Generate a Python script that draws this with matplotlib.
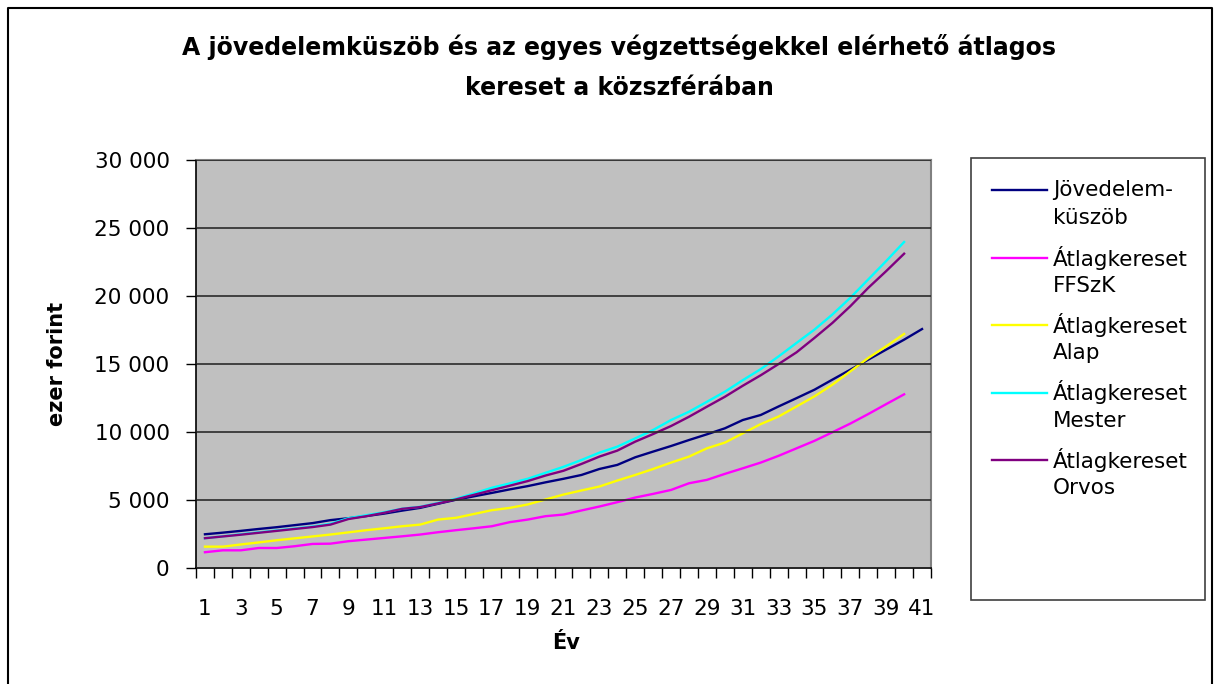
import numpy as np
import matplotlib.pyplot as plt
from matplotlib.lines import Line2D
from matplotlib.patches import Rectangle

# years 1..41 (only the threshold line runs to 41)
ev = list(range(1, 42))

jovedelem = [2480, 2600, 2730, 2870, 3000, 3150, 3300, 3520, 3660, 3820,
             4000, 4220, 4420, 4720, 5020, 5270, 5520, 5780, 6020, 6300,
             6560, 6840, 7280, 7580, 8140, 8560, 8970, 9410, 9830, 10270,
             10880, 11250, 11880, 12490, 13110, 13850, 14580, 15320, 16060, 16790,
             17570]
ffszk = [1160, 1300, 1300, 1470, 1470, 1600, 1770, 1790, 1970, 2090,
         2210, 2330, 2460, 2630, 2780, 2920, 3070, 3370, 3560, 3810,
         3930, 4230, 4520, 4840, 5180, 5450, 5740, 6230, 6480, 6920,
         7330, 7750, 8250, 8800, 9350, 9980, 10620, 11320, 12050, 12770]
alap = [1570, 1570, 1730, 1880, 2040, 2180, 2320, 2460, 2620, 2780,
        2920, 3070, 3190, 3560, 3690, 3970, 4250, 4420, 4670, 5040,
        5400, 5700, 5990, 6430, 6840, 7280, 7750, 8190, 8800, 9220,
        9900, 10580, 11140, 11880, 12620, 13480, 14460, 15440, 16300, 17210]
mester = [2190, 2330, 2480, 2620, 2760, 2900, 3050, 3250, 3660, 3880,
          4100, 4360, 4500, 4780, 5090, 5480, 5900, 6220, 6560, 7000,
          7440, 7940, 8480, 8920, 9530, 10150, 10880, 11490, 12220, 12960,
          13810, 14620, 15560, 16550, 17530, 18640, 19870, 21220, 22570, 23970]
orvos = [2190, 2320, 2450, 2590, 2730, 2870, 3010, 3190, 3600, 3810,
         4060, 4350, 4480, 4750, 5040, 5380, 5720, 6050, 6390, 6800,
         7150, 7650, 8190, 8630, 9290, 9850, 10440, 11120, 11860, 12590,
         13400, 14170, 15000, 15860, 16920, 18020, 19250, 20600, 21830, 23110]

labels = ["Jövedelem-\nküszöb", "Átlagkereset\nFFSzK", "Átlagkereset\nAlap",
          "Átlagkereset\nMester", "Átlagkereset\nOrvos"]
colors = ["#000080", "#FF00FF", "#FFFF00", "#00FFFF", "#800080"]
series = [jovedelem, ffszk, alap, mester, orvos]

plt.rcParams['font.family'] = ['DejaVu Sans']

W, H = 1219, 684
fig = plt.figure(figsize=(W / 100, H / 100), dpi=100)
fig.patch.set_facecolor("white")

ax = fig.add_axes([196 / W, 1 - 568 / H, 735 / W, 408 / H])
ax.set_facecolor("#C0C0C0")

for vals, c in zip(series, colors):
    ax.plot(ev[:len(vals)], vals, color=c, lw=1.7, solid_joinstyle="miter")

ax.set_xlim(0.5, 41.5)
ax.set_ylim(0, 30000)
ax.set_yticks(range(0, 30001, 5000))
ax.set_yticklabels(["0", "5 000", "10 000", "15 000", "20 000", "25 000", "30 000"])
ax.yaxis.grid(True, color="#2a2a2a", lw=1.2)
ax.set_axisbelow(False)
for line in ax.get_ygridlines():
    line.set_zorder(1)

ax.set_xticks(ev)
ax.set_xticklabels([str(i) if i % 2 == 1 else "" for i in ev])
ax.set_xticks(np.arange(0.5, 42, 1), minor=True)
ax.tick_params(axis="x", which="major", length=0, pad=22, labelsize=15.5)
ax.tick_params(axis="x", which="minor", length=7, width=1, direction="out")
ax.tick_params(axis="y", length=7, width=1, pad=12, labelsize=15.5)

for s in ["top", "right"]:
    ax.spines[s].set_color("#808080")
    ax.spines[s].set_linewidth(1.5)
for s in ["left", "bottom"]:
    ax.spines[s].set_color("black")
    ax.spines[s].set_linewidth(1.2)

fig.text(57 / W, 1 - 364 / H, "ezer forint", rotation=90, ha="center", va="center",
         fontsize=15, fontweight="bold")
fig.text(566 / W, 1 - 643 / H, "Év", ha="center", va="center",
         fontsize=15, fontweight="bold")
fig.text(619 / W, 1 - 67 / H,
         "A jövedelemküszöb és az egyes végzettségekkel elérhető átlagos\nkereset a közszférában",
         ha="center", va="center", fontsize=17, fontweight="bold", linespacing=1.85)

# outer chart frame: left, top, right (bottom runs off the image)
fx = [8 / W, 8 / W, 1212 / W, 1212 / W]
fy = [-0.05, 1 - 8 / H, 1 - 8 / H, -0.05]
fig.lines.append(Line2D(fx, fy, transform=fig.transFigure, color="black", lw=1.5))

# legend box
fig.patches.append(Rectangle((971 / W, 1 - 600 / H), (1205 - 971) / W, (600 - 158) / H,
                             transform=fig.transFigure, fill=False,
                             edgecolor="#404040", lw=1.2))
for k, (lab, c) in enumerate(zip(labels, colors)):
    y1 = 190 + k * 67.5
    fig.lines.append(Line2D([992 / W, 1047 / W], [1 - y1 / H, 1 - y1 / H],
                            transform=fig.transFigure, color=c, lw=1.7))
    first, second = lab.split("\n")
    fig.text(1053 / W, 1 - y1 / H, first, ha="left", va="center", fontsize=15.5)
    fig.text(1053 / W, 1 - (y1 + 28) / H, second, ha="left", va="center", fontsize=15.5)

fig.savefig("out.png", dpi=100)
